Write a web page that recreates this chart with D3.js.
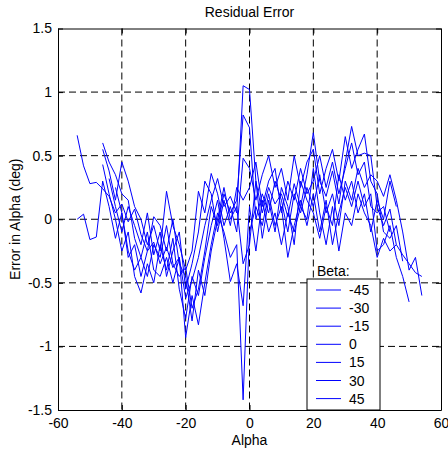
<!DOCTYPE html>
<html>
<head>
<meta charset="utf-8">
<script src="https://cdn.jsdelivr.net/npm/d3@7"></script>
<style>
  body { margin: 0; background: #fff; }
  text { font-family: Arial, "Liberation Sans", sans-serif; font-size: 14px; fill: #000; }
  .grid line { stroke: #000; stroke-dasharray: 7,4; stroke-width: 1; }
  .trace { fill: none; stroke: #0000ff; stroke-width: 1; }
</style>
</head>
<body>
<svg id="visualization" width="448" height="453"></svg>
<script>
// beta values (legend) and the alpha where each trace starts (2 deg steps)
var betas = ["-45", "-30", "-15", "0", "15", "30", "45"];
var starts = [-54, -54, -46, -46, -46, -44, -42];
var step = 2;

var err1 = [0.66, 0.42, 0.28, 0.29, 0.24, 0.18, 0.05, 0.12, -0.02, 0.08,
  -0.12, -0.25, -0.18, -0.35, -0.22, -0.38, -0.30, -0.62, -0.48, -0.30,
  -0.05, 0.15, 0.32, 0.10, 0.18, 0.05, 1.05, 1.02, 0.30, 0.05,
  0.25, 0.12, 0.20, 0.02, 0.28, 0.10, 0.35, 0.68, 0.30, 0.18,
  0.38, 0.12, 0.45, 0.73, 0.50, 0.52, 0.50, 0.10, -0.05, 0.08,
  -0.20, -0.28, -0.35, -0.42, -0.45];
var err2 = [0.00, 0.04, -0.16, -0.14, 0.30, 0.10, -0.15, 0.05, -0.25, -0.40,
  -0.30, -0.45, -0.20, -0.30, -0.05, -0.35, -0.45, -0.38, -0.70, -0.55,
  -0.25, 0.10, -0.05, 0.20, 0.05, 0.15, 0.82, 0.72, 0.00, 0.20,
  0.05, 0.30, 0.15, -0.10, 0.20, 0.05, 0.25, 0.10, 0.35, 0.05,
  0.20, -0.05, 0.30, 0.15, 0.40, 0.25, 0.35, 0.30, 0.18, 0.35,
  0.15, -0.10, -0.40, -0.30, -0.60];
var err3 = [0.55, 0.38, 0.15, 0.45, 0.30, 0.10, 0.00, -0.20, -0.05, -0.25,
  0.22, -0.05, -0.20, -0.40, -0.25, 0.22, 0.05, 0.36, 0.20, -0.05,
  0.10, -0.10, 0.48, 0.40, 0.15, 0.35, 0.50, 0.25, 0.40, 0.15,
  0.50, 0.25, 0.45, 0.55, 0.20, 0.40, 0.55, 0.30, 0.65, 0.40,
  0.55, 0.67, 0.30, 0.20, -0.10, -0.15, -0.05, -0.33];
var err4 = [0.60, 0.45, 0.35, 0.20, 0.15, -0.15, -0.30, -0.10, -0.40, -0.45,
  -0.30, -0.50, -0.30, -0.93, -0.60, -0.83, -0.50, -0.20, 0.05, -0.10,
  -0.30, -0.20, -1.42, -0.10, 0.10, -0.05, 0.20, -0.05, 0.10, -0.30,
  -0.05, 0.15, -0.05, 0.20, -0.10, 0.15, -0.20, 0.05, 0.25, 0.10,
  0.30, 0.10, 0.20, -0.25, -0.20, -0.05, -0.30, -0.45, -0.65];
var err5 = [0.43, 0.20, 0.00, -0.25, -0.10, -0.45, -0.58, -0.35, -0.50, -0.20,
  -0.40, -0.15, -0.55, -0.78, -0.45, -0.60, -0.30, -0.05, 0.15, -0.15,
  -0.49, -0.35, -0.68, 0.10, -0.25, 0.15, -0.10, 0.05, -0.20, 0.05,
  -0.10, 0.10, 0.00, 0.40, 0.05, -0.20, 0.10, -0.25, 0.05, -0.05,
  0.20, 0.05, -0.05, -0.30, -0.15, -0.25, -0.20];
var err6 = [0.32, 0.10, -0.10, 0.10, -0.05, -0.20, 0.05, -0.28, -0.10, -0.45,
  -0.25, -0.10, -0.55, -0.35, -0.10, 0.30, 0.20, -0.10, 0.15, -0.05,
  0.25, 0.15, 0.25, 0.45, 0.10, 0.30, 0.40, 0.05, 0.30, 0.15,
  0.40, 0.20, 0.30, 0.50, 0.25, 0.45, 0.20, 0.40, 0.60, 0.35,
  0.45, 0.10, 0.05, 0.10, -0.10];
var err7 = [0.25, 0.05, -0.30, -0.20, -0.45, -0.25, 0.02, -0.05, -0.25, 0.00,
  -0.35, -0.45, -0.80, -0.40, -0.60, -0.25, 0.00, 0.25, 0.00, 0.10,
  -0.35, -0.20, 0.30, -0.15, 0.15, -0.10, 0.25, 0.10, -0.20, 0.30,
  0.15, 0.05, -0.15, 0.10, -0.05, 0.35, 0.15, 0.30, 0.05, 0.20,
  -0.10, 0.15, 0.00, 0.30, 0.10];

var series = [err1, err2, err3, err4, err5, err6, err7];
var xTicks = [-60, -40, -20, 0, 20, 40, 60];
var yTicks = [-1.5, -1, -0.5, 0, 0.5, 1, 1.5];

var plotLeft = 58, plotRight = 441, plotTop = 28.5, plotBottom = 410;

var x = d3.scaleLinear().domain([-60, 60]).range([plotLeft, plotRight]);
var y = d3.scaleLinear().domain([-1.5, 1.5]).range([plotBottom, plotTop]);

var svg = d3.select("#visualization");
svg.append("rect").attr("width", 448).attr("height", 453).attr("fill", "#fff");

// grid
var grid = svg.append("g").attr("class", "grid");
xTicks.slice(1, -1).forEach(function (t) {
    grid.append("line")
        .attr("x1", x(t)).attr("x2", x(t))
        .attr("y1", plotTop).attr("y2", plotBottom);
});
yTicks.slice(1, -1).forEach(function (t) {
    grid.append("line")
        .attr("x1", plotLeft).attr("x2", plotRight)
        .attr("y1", y(t)).attr("y2", y(t));
});

// traces
var line = d3.line()
    .x(function (d) { return x(d[0]); })
    .y(function (d) { return y(d[1]); });

series.forEach(function (vals, k) {
    var pts = vals.map(function (v, i) { return [starts[k] + i * step, v]; });
    svg.append("path")
        .attr("class", "trace")
        .attr("d", line(pts));
});

// axes
var fmt = function (d) { return String(d); };
svg.append("g")
    .attr("transform", "translate(0," + plotBottom + ")")
    .call(d3.axisBottom(x).tickValues(xTicks).tickFormat(fmt).tickSizeInner(-5).tickSizeOuter(0).tickPadding(8))
    .call(function (g) { g.select(".domain").attr("stroke", "#000"); });
svg.append("g")
    .attr("transform", "translate(" + plotLeft + ",0)")
    .call(d3.axisLeft(y).tickValues(yTicks).tickFormat(fmt).tickSizeInner(-5).tickSizeOuter(0).tickPadding(6))
    .call(function (g) { g.select(".domain").attr("stroke", "#000"); });
svg.append("g")
    .attr("transform", "translate(0," + plotTop + ")")
    .call(d3.axisTop(x).tickValues(xTicks).tickFormat("").tickSizeInner(-5).tickSizeOuter(0));
svg.append("g")
    .attr("transform", "translate(" + plotRight + ",0)")
    .call(d3.axisRight(y).tickValues(yTicks).tickFormat("").tickSizeInner(-5).tickSizeOuter(0));
svg.selectAll(".tick text").style("font-size", "14px").style("font-family", "Arial, 'Liberation Sans', sans-serif");

// labels
svg.append("text")
    .attr("x", (plotLeft + plotRight) / 2).attr("y", 17)
    .attr("text-anchor", "middle")
    .text("Residual Error");
svg.append("text")
    .attr("x", (plotLeft + plotRight) / 2).attr("y", 445)
    .attr("text-anchor", "middle")
    .text("Alpha");
svg.append("text")
    .attr("transform", "translate(20," + ((plotTop + plotBottom) / 2) + ") rotate(-90)")
    .attr("text-anchor", "middle")
    .text("Error in Alpha (deg)");

// legend
var lg = svg.append("g");
lg.append("rect")
    .attr("x", 307).attr("y", 279)
    .attr("width", 73).attr("height", plotBottom - 279)
    .attr("fill", "#fff").attr("stroke", "#000");
lg.append("text").attr("x", 317).attr("y", 276).text("Beta:");
betas.forEach(function (b, i) {
    var ly = 290 + i * 18.1;
    lg.append("line")
        .attr("x1", 316).attr("x2", 341)
        .attr("y1", ly).attr("y2", ly)
        .attr("stroke", "#0000ff");
    lg.append("text")
        .attr("x", 349).attr("y", ly + 5)
        .text(b);
});
</script>
</body>
</html>
